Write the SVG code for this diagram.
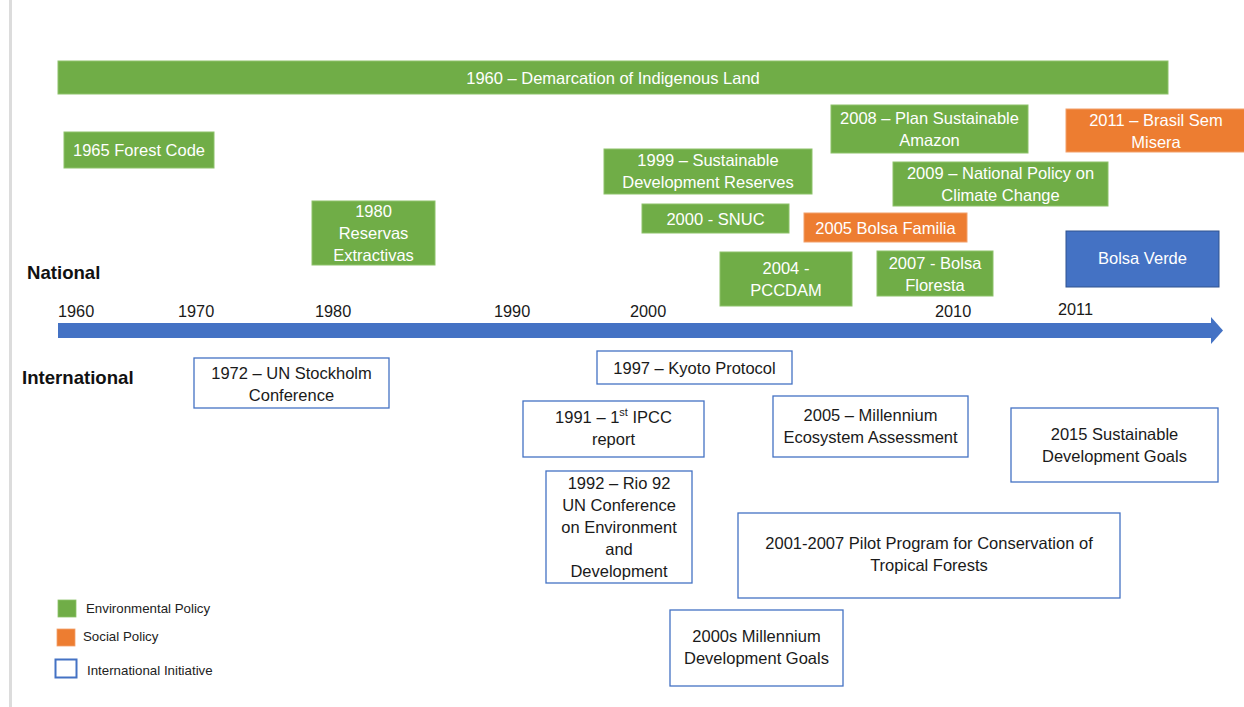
<svg xmlns="http://www.w3.org/2000/svg" width="1244" height="707" viewBox="0 0 1244 707">
<defs>
<style>
text{font-family:"Liberation Sans",Arial,sans-serif;}
.g{fill:#70AD47;stroke:#8DC26A;stroke-width:1;}
.o{fill:#ED7D31;stroke:#F2A06B;stroke-width:1;}
.b{fill:#4472C4;stroke:#2F528F;stroke-width:1;}
.i{fill:#fff;stroke:#4472C4;stroke-width:1.3;}
.wt{fill:#fff;font-size:16.5px;text-anchor:middle;dominant-baseline:central;}
.kt{fill:#1a1a1a;font-size:16.5px;text-anchor:middle;dominant-baseline:central;}
.yr{fill:#1a1a1a;font-size:16.3px;}
.lbl{fill:#111;font-size:18.6px;font-weight:bold;}
.lg{fill:#222;font-size:13.3px;}
</style>
<marker id="ah" viewBox="0 0 12 27" refX="0" refY="13.5" markerWidth="12" markerHeight="27" markerUnits="userSpaceOnUse" orient="auto">
<path d="M0,0 L12,13.5 L0,27 Z" fill="#4472C4"/>
</marker>
</defs>
<rect x="0" y="0" width="1244" height="707" fill="#fff"/>
<rect x="9" y="0" width="3" height="707" fill="#dcdcdc"/>

<g id="connectors">
<line x1="58" y1="330.5" x2="1211" y2="330.5" stroke="#4472C4" stroke-width="15" marker-end="url(#ah)"/>
</g>

<g id="axis-labels">
<text class="yr" x="58" y="317">1960</text>
<text class="yr" x="178" y="317">1970</text>
<text class="yr" x="315" y="317">1980</text>
<text class="yr" x="494" y="317">1990</text>
<text class="yr" x="630" y="317">2000</text>
<text class="yr" x="935" y="317">2010</text>
<text class="yr" x="1058" y="315">2011</text>
<text class="lbl" x="27" y="279">National</text>
<text class="lbl" x="22" y="384">International</text>
</g>

<g id="n1960"><rect class="g" x="58" y="61" width="1110" height="33"/><text class="wt" x="613" y="77.5">1960 – Demarcation of Indigenous Land</text></g>
<g id="n1965"><rect class="g" x="64" y="132" width="150" height="36"/><text class="wt" x="139" y="150">1965 Forest Code</text></g>
<g id="n1980"><rect class="g" x="312" y="201" width="123" height="64"/><text class="wt" x="373.5" y="211">1980</text><text class="wt" x="373.5" y="233">Reservas</text><text class="wt" x="373.5" y="255">Extractivas</text></g>
<g id="n2008"><rect class="g" x="831" y="105" width="197" height="48"/><text class="wt" x="929.5" y="118">2008 – Plan Sustainable</text><text class="wt" x="929.5" y="140">Amazon</text></g>
<g id="n1999"><rect class="g" x="604" y="149" width="208" height="45"/><text class="wt" x="708" y="160">1999 – Sustainable</text><text class="wt" x="708" y="182">Development Reserves</text></g>
<g id="n2000"><rect class="g" x="642" y="204" width="147" height="29"/><text class="wt" x="715.5" y="219">2000 - SNUC</text></g>
<g id="n2005bf"><rect class="o" x="804" y="213" width="163" height="29"/><text class="wt" x="885.5" y="227.5">2005 Bolsa Familia</text></g>
<g id="n2009"><rect class="g" x="893" y="162" width="215" height="44"/><text class="wt" x="1000.5" y="173">2009 – National Policy on</text><text class="wt" x="1000.5" y="195">Climate Change</text></g>
<g id="n2004"><rect class="g" x="720" y="252" width="132" height="54"/><text class="wt" x="786" y="268">2004 -</text><text class="wt" x="786" y="290">PCCDAM</text></g>
<g id="n2007"><rect class="g" x="877" y="251" width="116" height="45"/><text class="wt" x="935" y="263">2007 - Bolsa</text><text class="wt" x="935" y="285">Floresta</text></g>
<g id="n2011"><rect class="o" x="1066" y="109" width="180" height="43"/><text class="wt" x="1156" y="120">2011 – Brasil Sem</text><text class="wt" x="1156" y="142">Misera</text></g>
<g id="nbv"><rect class="b" x="1066" y="231" width="153" height="56"/><text class="wt" x="1142.5" y="258">Bolsa Verde</text></g>

<g id="i1972"><rect class="i" x="194" y="358" width="195" height="50"/><text class="kt" x="291.5" y="373">1972 – UN Stockholm</text><text class="kt" x="291.5" y="395">Conference</text></g>
<g id="i1997"><rect class="i" x="597" y="351" width="195" height="33"/><text class="kt" x="694.5" y="368">1997 – Kyoto Protocol</text></g>
<g id="i1991"><rect class="i" x="523" y="401" width="181" height="56"/><text class="kt" x="613.5" y="417">1991 – 1<tspan font-size="11" dy="-5">st</tspan><tspan dy="5"> IPCC</tspan></text><text class="kt" x="613.5" y="439">report</text></g>
<g id="i2005"><rect class="i" x="773" y="396" width="195" height="61"/><text class="kt" x="870.5" y="415">2005 – Millennium</text><text class="kt" x="870.5" y="437">Ecosystem Assessment</text></g>
<g id="i1992"><rect class="i" x="546" y="471" width="146" height="112"/><text class="kt" x="619" y="483">1992 – Rio 92</text><text class="kt" x="619" y="505">UN Conference</text><text class="kt" x="619" y="527">on Environment</text><text class="kt" x="619" y="549">and</text><text class="kt" x="619" y="571">Development</text></g>
<g id="i2001"><rect class="i" x="738" y="513" width="382" height="85"/><text class="kt" x="929" y="543">2001-2007 Pilot Program for Conservation of</text><text class="kt" x="929" y="565">Tropical Forests</text></g>
<g id="i2000s"><rect class="i" x="670" y="610" width="173" height="76"/><text class="kt" x="756.5" y="636">2000s Millennium</text><text class="kt" x="756.5" y="658">Development Goals</text></g>
<g id="i2015"><rect class="i" x="1011" y="408" width="207" height="74"/><text class="kt" x="1114.5" y="434">2015 Sustainable</text><text class="kt" x="1114.5" y="456">Development Goals</text></g>

<g id="legend">
<rect x="58" y="600" width="18" height="17" fill="#70AD47" stroke="#8DC26A" stroke-width="0.8"/>
<text class="lg" x="86" y="613">Environmental Policy</text>
<rect x="57" y="629" width="18" height="17" fill="#ED7D31" stroke="#F2A06B" stroke-width="0.8"/>
<text class="lg" x="83" y="641">Social Policy</text>
<rect x="55.5" y="659.5" width="21" height="18" fill="#fff" stroke="#4472C4" stroke-width="2"/>
<text class="lg" x="87" y="675">International Initiative</text>
</g>
</svg>
